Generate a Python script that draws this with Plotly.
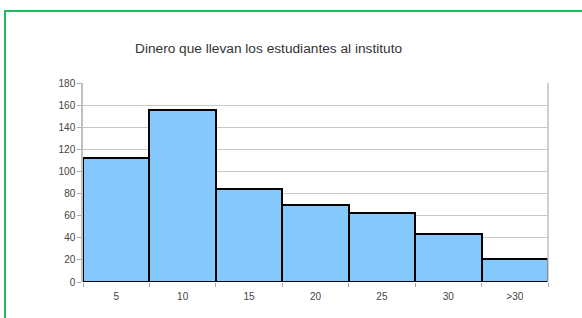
import plotly.graph_objects as go

categories = ["5", "10", "15", "20", "25", "30", ">30"]
values = [112, 156, 84, 70, 62, 43, 21]
title_text = "Dinero que llevan los estudiantes al instituto"

fig = go.Figure()
fig.add_trace(go.Bar(
    x=categories, y=values,
    marker=dict(color="#85c8fc", line=dict(color="black", width=2)),
    width=1,
))

L, R, T, B = 83, 34, 83, 36
W, H = 582, 318
pw, ph = W - L - R, H - T - B

fig.update_layout(
    width=W, height=H,
    margin=dict(l=L, r=R, t=T, b=B),
    paper_bgcolor="white", plot_bgcolor="white",
    bargap=0, showlegend=False,
    font=dict(family="Liberation Sans, Arial, sans-serif", size=10, color="#444444"),
    annotations=[dict(
        text=title_text, xref="paper", yref="paper",
        x=(268 - L) / pw, y=(H - B - 48) / ph, xanchor="center", yanchor="middle",
        showarrow=False, font=dict(size=13.7, color="#333333"),
    )],
    shapes=[dict(
        type="rect", xref="paper", yref="paper",
        x0=(5 - L) / pw, x1=1.5, y0=-0.5, y1=(H - B - 11) / ph,
        line=dict(color="#22bb5e", width=2), layer="below",
    ), dict(
        type="line", xref="paper", yref="paper",
        x0=1, x1=1, y0=0, y1=1, line=dict(color="#c0c0c0", width=1.5),
    )],
)
fig.update_xaxes(
    type="category", tickson="boundaries", ticks="outside", ticklen=4,
    tickcolor="#aaaaaa", showgrid=False, showline=False, zeroline=False,
    range=[-0.5, 6.5], ticklabelstandoff=7,
)
fig.update_yaxes(
    range=[0, 180], dtick=20, ticks="outside", ticklen=4, tickcolor="#aaaaaa",
    showgrid=True, gridcolor="#c8c8c8", gridwidth=1,
    showline=True, linecolor="#c0c0c0", linewidth=1.5, zeroline=False,
)

fig.write_html(
    "out.html",
    config={"displayModeBar": False},
    post_script="document.body.style.margin='0px';document.body.style.overflow='hidden';",
)
